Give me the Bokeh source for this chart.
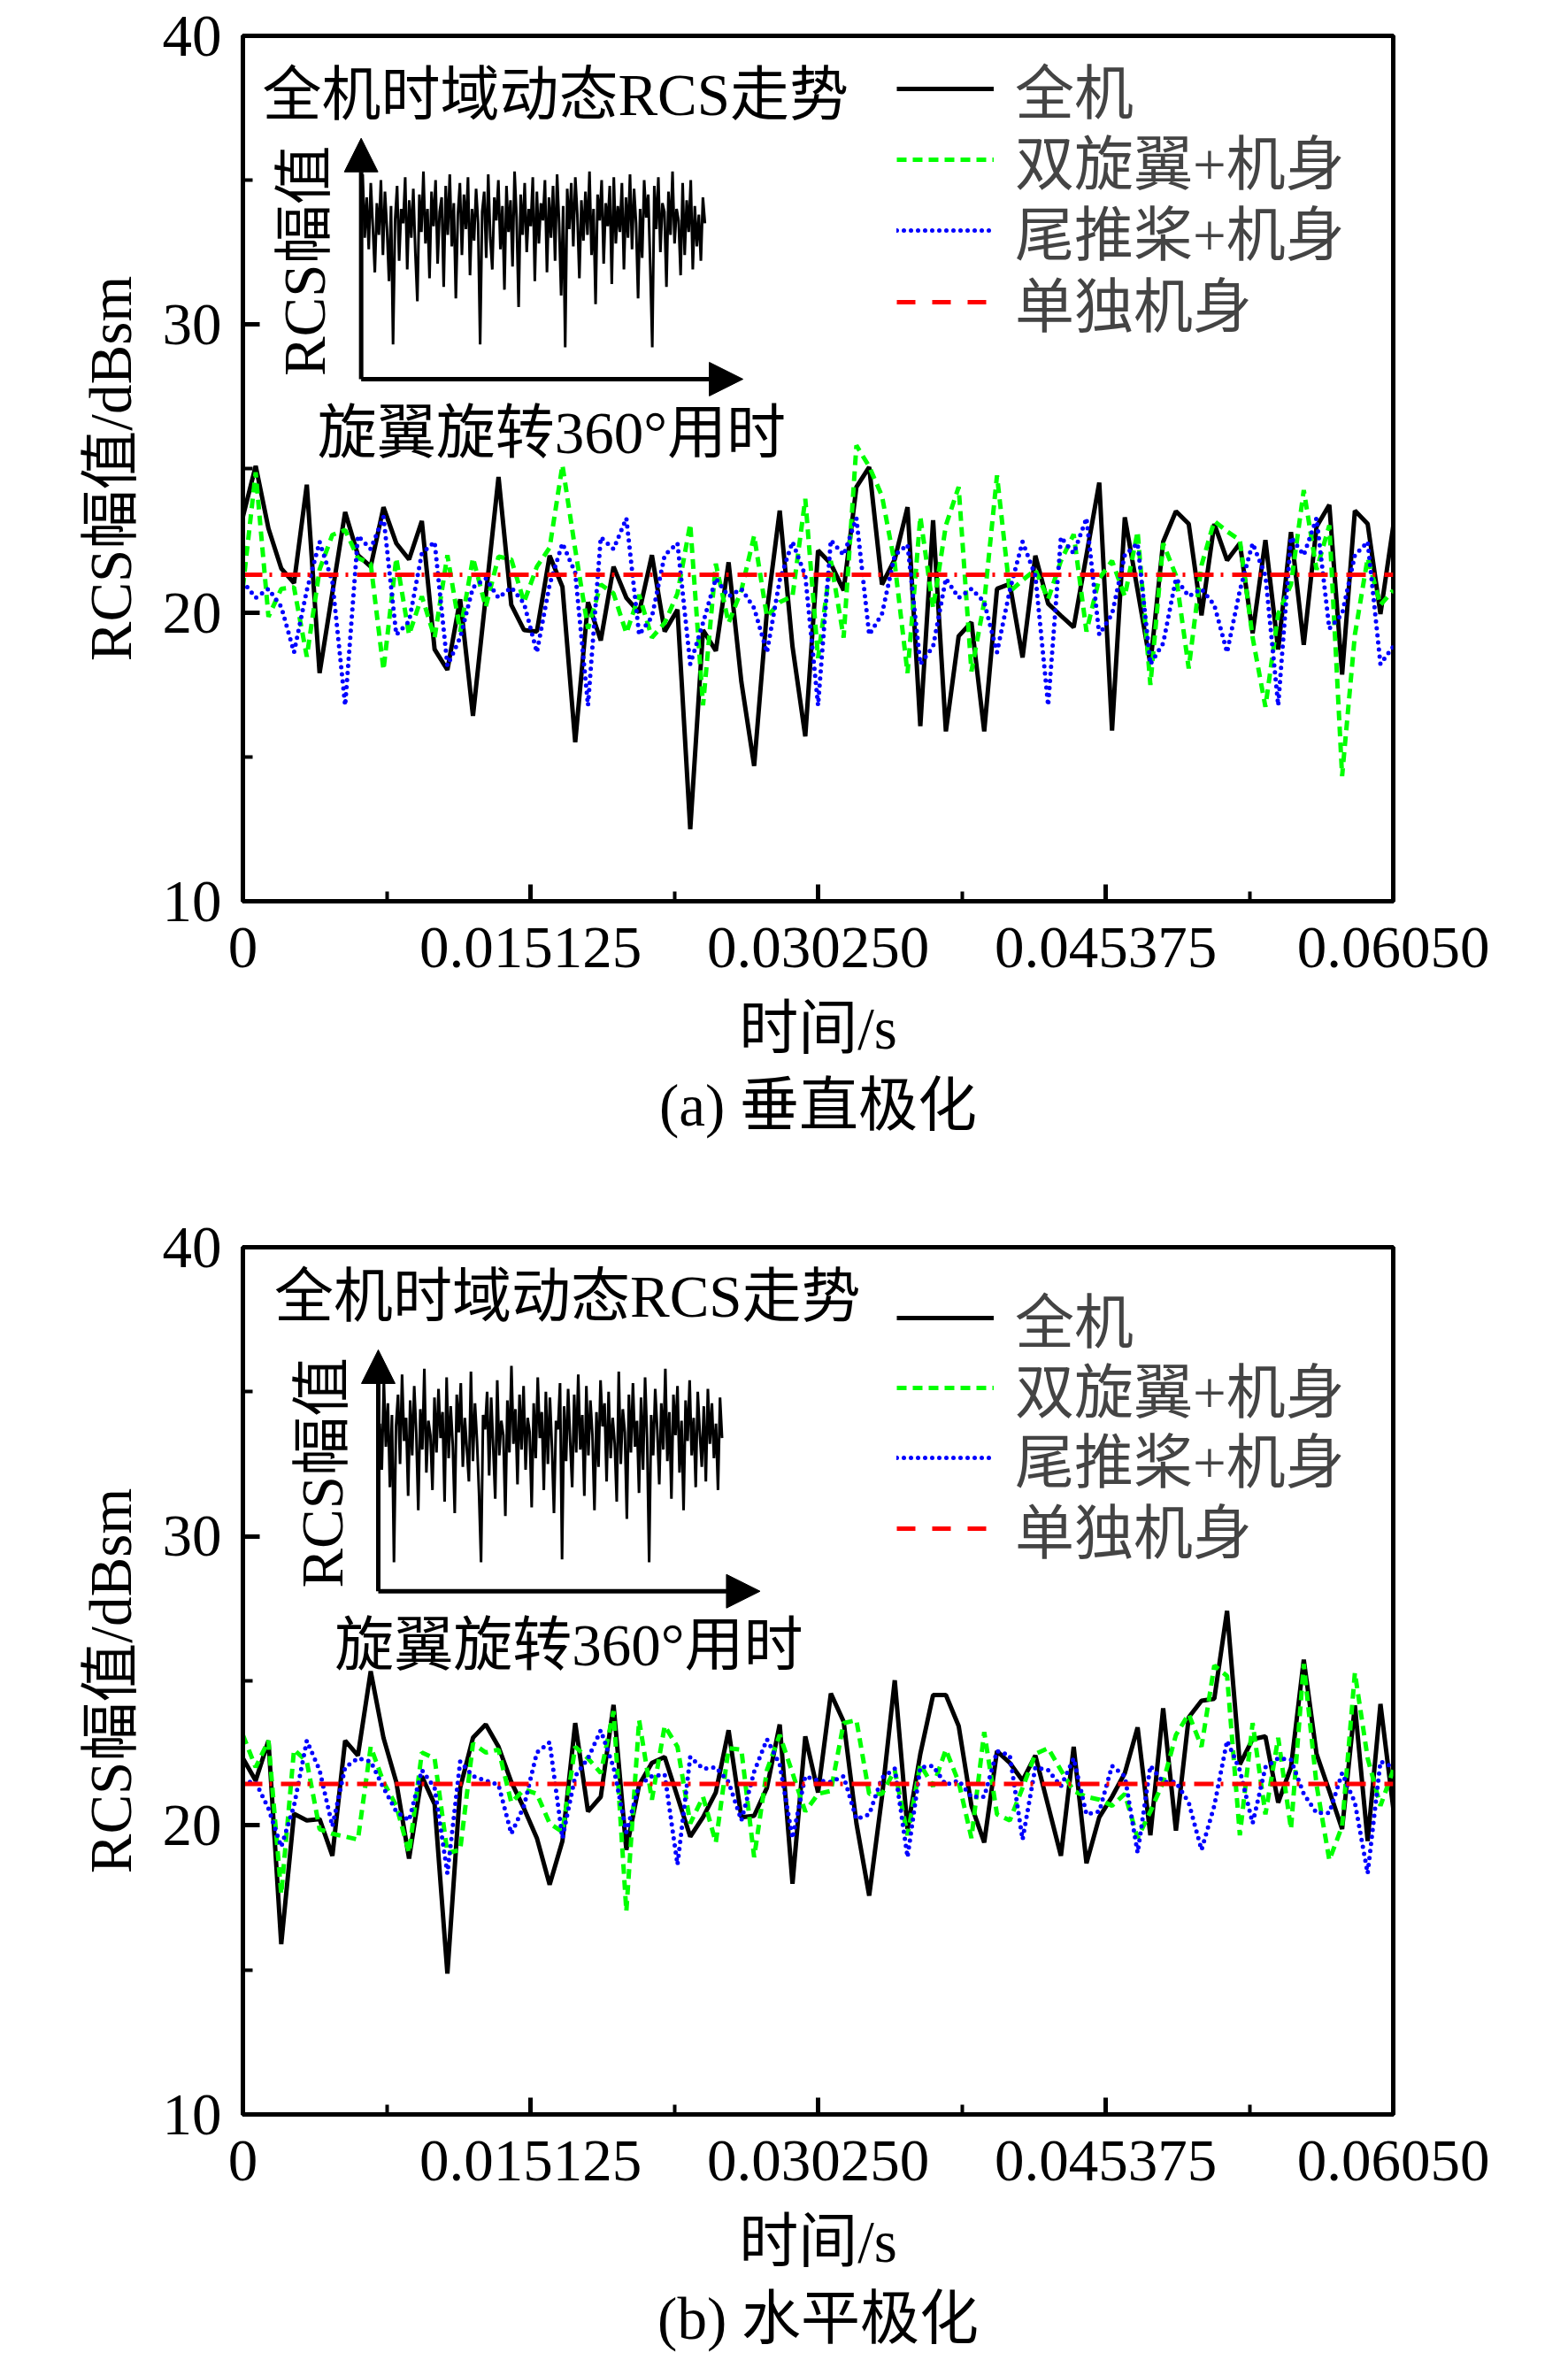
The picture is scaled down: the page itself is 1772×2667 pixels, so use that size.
import numpy as np
from bokeh.plotting import figure
from bokeh.layouts import column
from bokeh.models import (FixedTicker, Legend, LegendItem, Label, Arrow, NormalHead,
                          Title, Range1d)
from bokeh.embed import file_html
from bokeh.resources import INLINE

# ---------------- data ----------------
T_END = 0.0605
N_SAMPLES = 91
x_ticks = [0, 0.015125, 0.03025, 0.045375, 0.0605]
x_tick_labels = ["0", "0.015125", "0.030250", "0.045375", "0.06050"]
x_minor = [0.0075625, 0.0226875, 0.0378125, 0.0529375]
y_ticks = [10, 20, 30, 40]
y_minor = [15, 25, 35]

series_names = ["全机", "双旋翼+机身", "尾推桨+机身", "单独机身"]

# (a) vertical polarisation
a_full = [23.33, 25.09, 22.92, 21.54, 21.03, 24.44, 17.91, 20.7, 23.49, 22.0, 21.6, 23.66,
          22.41, 21.85, 23.18, 18.73, 18.02, 20.47, 16.43, 20.57, 24.71, 20.27, 19.4, 19.35,
          21.98, 20.9, 15.51, 20.37, 19.04, 21.6, 20.52, 20.01, 22.0, 19.35, 20.11, 12.5,
          19.4, 18.68, 21.75, 17.6, 14.69, 20.06, 23.54, 18.83, 15.72, 22.16,
          21.7, 20.78, 24.36, 25.05, 20.98, 21.85, 23.66, 16.07, 23.21, 15.89, 19.19, 19.67,
          15.89, 20.83, 21.0, 18.45, 21.98, 20.32, 19.9, 19.5, 22.0, 24.51,
          15.92, 23.31, 20.78, 18.22, 22.46, 23.52, 23.08, 19.91, 23.08, 21.82, 22.41, 19.29,
          22.52, 18.73, 22.8, 18.89, 22.98, 23.74, 17.86, 23.54, 23.08, 19.96, 23.0]
a_rotor = [20.88, 24.87, 19.86, 20.83, 20.88, 18.48, 21.5, 22.7, 22.87, 21.9, 21.7, 18.02,
           21.9, 19.24, 20.57, 19.14, 22.0, 19.35, 21.9, 20.2, 21.95, 21.85, 20.37, 21.6,
           22.26, 25.12, 22.2, 19.45, 20.98, 20.67, 19.29, 20.62, 19.14, 19.65, 20.67, 23.08,
           16.79, 21.7, 19.65, 20.78, 22.67, 19.86, 20.37, 20.57, 23.95, 18.43,
           21.8, 19.14, 25.8, 25.07, 24.05, 21.7, 17.91, 23.33, 20.16, 23.03, 24.36, 17.97,
           20.37, 24.76, 20.73, 21.13, 21.49, 20.47, 21.8, 22.72, 19.35, 21.19,
           21.8, 20.57, 22.82, 17.5, 22.41, 21.29, 18.07, 21.65, 23.18, 22.82, 22.52, 19.14,
           16.74, 19.96, 20.98, 24.25, 21.49, 23.03, 14.34, 19.24, 21.9, 20.27, 20.78]
a_tail = [21.08, 20.52, 20.83, 20.21, 18.63, 20.78, 22.46, 21.08, 16.79, 22.67, 22.21, 23.33,
          19.24, 19.7, 22.06, 22.46, 18.17, 19.14, 20.88, 21.19, 20.52, 20.88, 20.32, 18.63,
          20.98, 22.41, 21.39, 16.79, 22.62, 22.21, 23.28, 19.24, 19.86, 22.0, 22.41, 18.22,
          19.65, 21.19, 20.57, 20.83, 20.16, 18.63, 21.13, 22.46, 21.29, 16.79,
          22.52, 22.0, 23.28, 19.24, 19.96, 22.0, 22.36, 18.22, 18.83, 21.19, 20.52, 20.83,
          20.37, 18.63, 20.78, 22.46, 21.29, 16.79, 22.62, 22.06, 23.28, 19.24,
          19.96, 22.0, 22.41, 18.22, 18.94, 21.19, 20.57, 20.83, 20.27, 18.63, 20.78, 22.41,
          21.29, 16.79, 22.62, 22.0, 23.28, 19.45, 19.96, 22.0, 22.46, 18.22, 18.83]
a_body = 21.32

# (b) horizontal polarisation
b_full = [22.32, 21.55, 22.93, 15.89, 20.4, 20.17, 20.22, 18.95, 22.93, 22.42, 25.33, 23.03,
          21.5, 18.85, 21.7, 20.73, 14.87, 21.3, 23.03, 23.49, 22.72, 21.5, 20.58, 19.56,
          17.95, 19.46, 23.54, 20.48, 20.99, 24.17, 19.15, 21.4, 22.16, 22.37, 20.99, 19.61,
          20.28, 21.14, 23.29, 20.28, 20.33, 21.3, 23.49, 17.98, 23.08, 21.14,
          24.56, 23.59, 20.07, 17.57, 20.99, 25.02, 19.87, 22.47, 24.51, 24.51, 23.44, 20.68,
          19.41, 22.57, 22.16, 21.55, 22.42, 20.68, 18.95, 22.72, 18.69, 20.28,
          20.99, 21.81, 23.39, 19.66, 24.05, 19.82, 23.74, 24.31, 24.38, 27.42, 22.11, 22.98,
          23.08, 20.79, 22.01, 25.73, 22.47, 21.19, 19.87, 24.15, 19.46, 24.2, 20.6]
b_rotor = [23.13, 22.01, 22.93, 17.62, 22.62, 22.21, 19.87, 19.71, 19.61, 19.51, 22.72, 21.5,
           20.68, 19.05, 22.52, 22.32, 19.05, 19.15, 22.83, 22.52, 22.62, 20.79, 21.24, 21.09,
           20.07, 19.77, 22.72, 22.32, 21.81, 23.95, 17.03, 23.64, 20.89, 23.44, 22.72, 20.07,
           20.99, 19.41, 22.67, 22.62, 18.9, 21.91, 23.13, 21.81, 20.48, 21.09,
           21.19, 23.54, 23.64, 21.09, 21.09, 21.91, 19.66, 22.11, 21.35, 22.62, 21.5, 19.56,
           23.23, 20.38, 20.17, 21.3, 22.47, 22.67, 21.91, 21.19, 20.99, 20.89,
           20.68, 21.09, 19.56, 20.48, 21.5, 23.13, 23.85, 22.72, 25.53, 25.17, 19.66, 23.54,
           20.38, 23.03, 19.87, 25.58, 21.4, 18.8, 19.97, 25.28, 22.32, 20.68, 21.91]
b_tail = [21.5, 21.5, 20.58, 19.26, 20.68, 22.93, 21.91, 19.97, 22.01, 22.32, 22.21, 21.3,
          20.48, 20.17, 21.91, 21.3, 18.34, 22.21, 21.7, 21.55, 21.4, 19.71, 20.68, 22.52,
          22.87, 19.56, 21.7, 22.32, 23.29, 22.01, 19.77, 21.4, 21.7, 21.76, 18.64, 22.37,
          21.96, 22.01, 21.5, 20.17, 21.86, 22.98, 22.11, 19.56, 21.7, 21.55,
          21.5, 21.7, 20.22, 20.38, 21.65, 21.96, 18.9, 22.01, 22.06, 21.4, 21.55, 20.99,
          20.99, 22.57, 22.42, 19.51, 22.01, 21.91, 21.35, 22.32, 20.38, 20.48,
          22.06, 21.7, 19.05, 22.06, 21.5, 21.5, 20.79, 19.15, 20.68, 22.93, 21.91, 20.07,
          22.01, 22.32, 22.27, 21.09, 20.43, 20.43, 21.81, 20.79, 18.34, 22.21, 22.01]
b_body = 21.43

# inset traces (full-rotation RCS trend, read in main-axis units)
inset_a = [35.2, 33.0, 34.4, 32.6, 34.9, 33.4, 31.8, 34.2, 33.1, 35.0,
           32.4, 34.6, 33.3, 31.5, 34.1, 29.3, 33.6, 34.8, 32.2, 34.0,
           33.5, 35.1, 31.9, 34.3, 33.0, 34.7, 32.5, 30.8, 34.5, 33.2,
           35.3, 32.8, 34.0, 31.6, 34.6, 33.4, 35.0, 32.1, 33.9, 34.4,
           31.3, 34.8, 33.1, 35.2, 32.7, 34.2, 30.9, 33.8, 34.9, 32.4,
           34.5, 33.3, 35.1, 31.7, 34.0, 32.9, 34.7, 33.5, 29.3, 33.9,
           34.6, 32.3, 35.2, 33.0, 31.9, 34.4, 33.6, 35.0, 32.6, 34.1,
           31.2, 34.8, 33.2, 34.3, 32.0, 35.3, 33.7, 30.6, 34.5, 33.1,
           34.9, 32.5, 34.0, 33.4, 35.1, 31.5, 34.6, 32.8, 34.2, 33.6,
           35.0, 31.8, 34.4, 33.0, 34.8, 32.2, 35.2, 33.5, 31.0, 34.1,
           29.2, 34.7, 33.3, 34.9, 32.7, 35.1, 33.8, 31.6, 34.3, 32.9,
           34.6, 33.1, 35.3, 32.4, 34.0, 30.7, 34.5, 33.6, 35.0, 32.1,
           34.2, 33.4, 34.8, 31.4, 35.1, 32.8, 34.1, 33.2, 34.9, 31.9,
           34.4, 33.0, 35.2, 32.6, 34.7, 33.5, 30.9, 34.0, 32.3, 35.0,
           33.7, 34.5, 32.0, 29.2, 34.8, 33.3, 35.1, 32.5, 34.2, 33.9,
           31.3, 34.6, 33.1, 35.3, 32.8, 34.0, 33.6, 31.7, 34.9, 32.4,
           34.3, 33.2, 35.0, 31.9, 34.1, 32.7, 33.8, 32.2, 34.4, 33.5]
inset_b = [33.9, 32.3, 35.4, 33.1, 34.6, 31.7, 34.2, 29.1, 33.8, 34.9,
           32.5, 35.6, 33.3, 34.1, 31.4, 34.7, 32.8, 35.2, 33.6, 30.9,
           34.4, 33.0, 35.8, 32.2, 34.0, 33.5, 31.6, 34.8, 32.9, 35.1,
           33.4, 34.3, 31.2, 35.5, 32.7, 34.5, 33.2, 30.8, 34.9, 33.6,
           35.3, 32.4, 34.1, 33.0, 31.9, 35.7, 32.6, 34.6, 33.3, 31.5,
           29.1, 34.2, 33.7, 35.0, 32.1, 34.8, 33.1, 31.3, 35.4, 32.8,
           34.0, 33.5, 30.7, 34.7, 32.9, 35.9, 33.2, 34.4, 31.8, 34.9,
           33.0, 35.2, 32.3, 34.1, 33.6, 31.0, 34.6, 32.7, 35.5, 33.4,
           34.3, 31.6, 35.0, 32.5, 34.8, 33.1, 30.8, 34.0, 33.7, 35.3,
           29.2, 34.5, 32.6, 35.1, 33.3, 31.7, 34.9, 32.9, 35.6, 33.0,
           34.2, 31.4, 35.2, 32.8, 34.7, 33.5, 30.9, 34.3, 32.4, 35.4,
           33.8, 34.6, 31.9, 35.0, 32.7, 34.1, 33.2, 31.2, 35.7, 32.5,
           34.4, 33.6, 30.6, 34.9, 32.9, 35.3, 33.1, 34.0, 31.5, 34.8,
           32.3, 35.5, 33.4, 29.1, 34.2, 32.8, 35.1, 33.7, 31.8, 34.6,
           33.0, 35.8, 32.6, 34.3, 31.3, 34.9, 33.5, 35.2, 32.2, 34.0,
           30.9, 34.7, 33.3, 35.4, 32.8, 34.1, 31.7, 35.0, 33.6, 32.4,
           34.5, 31.9, 35.1, 33.2, 34.6, 32.7, 33.9, 31.6, 34.8, 33.4]

inset_title = "全机时域动态RCS走势"
inset_ylabel = "RCS幅值"
inset_xlabel = "旋翼旋转360°用时"

time = np.linspace(0, T_END, N_SAMPLES)

FONT = "Liberation Serif, Noto Sans CJK SC"
FS = "67px"
LW = 5


def make_panel(full, rotor, tail, body, inset, caption, height, top, bottom,
               dx, legend_rows, title_dy):
    p = figure(width=1772, height=height, x_range=Range1d(0, T_END), y_range=Range1d(10, 40),
               output_backend="svg", toolbar_location=None,
               min_border_left=274, min_border_right=198,
               min_border_top=top, min_border_bottom=bottom)
    p.grid.visible = False
    p.outline_line_color = "black"
    p.outline_line_width = LW
    p.outline_line_alpha = 1

    for ax in (p.xaxis[0], p.yaxis[0]):
        ax.axis_line_width = LW
        ax.major_tick_line_width = LW
        ax.minor_tick_line_width = 4
        ax.major_tick_in = 19
        ax.major_tick_out = 0
        ax.minor_tick_in = 11
        ax.minor_tick_out = 0
        ax.major_label_text_font = FONT
        ax.major_label_text_font_size = FS
        ax.major_label_text_color = "black"
        ax.axis_label_text_font = FONT
        ax.axis_label_text_font_size = FS
        ax.axis_label_text_font_style = "normal"
        ax.axis_label_text_color = "black"

    p.xaxis.ticker = FixedTicker(ticks=x_ticks, minor_ticks=x_minor)
    p.xaxis.major_label_overrides = {t: s for t, s in zip(x_ticks, x_tick_labels)}
    p.xaxis.major_label_standoff = 30
    p.xaxis.axis_label = "时间/s"
    p.xaxis.axis_label_standoff = 29
    p.yaxis.ticker = FixedTicker(ticks=y_ticks, minor_ticks=y_minor)
    p.yaxis.major_label_standoff = 24
    p.yaxis.axis_label = "RCS幅值/dBsm"
    p.yaxis.axis_label_standoff = 19

    r_full = p.line(time, full, line_color="black", line_width=LW)
    r_rotor = p.line(time, rotor, line_color="#00ff00", line_width=LW, line_dash="11 7")
    r_tail = p.line(time, tail, line_color="#0000ff", line_width=LW, line_dash="0 8",
                    line_cap="round")
    p.line(time, [body] * N_SAMPLES, line_color="#ff0000", line_width=LW,
           line_dash="22 8 3 10")
    # legend proxy for the fuselage line (draws nothing in the plot)
    r_body_leg = p.line(time, np.full(N_SAMPLES, np.nan), line_color="#ff0000",
                        line_width=LW, line_dash="21 19")

    # inset
    t_in = np.linspace(0.0063 + dx, 0.0243 + dx, len(inset))
    p.line(t_in, inset, line_color="black", line_width=3)
    x0 = 0.00622 + dx
    p.add_layout(Arrow(end=NormalHead(size=38, fill_color="black", line_color="black"),
                       x_start=x0, y_start=28.1, x_end=x0, y_end=36.45,
                       line_width=LW, line_color="black"))
    p.add_layout(Arrow(end=NormalHead(size=38, fill_color="black", line_color="black"),
                       x_start=x0, y_start=28.1, x_end=0.0263 + dx, y_end=28.1,
                       line_width=LW, line_color="black"))
    p.add_layout(Label(x=0.00102 + dx * 0.7, y=37.95 + title_dy, text=inset_title,
                       text_font=FONT, text_font_size=FS, text_align="left",
                       text_baseline="middle", text_color="black"))
    p.add_layout(Label(x=0.00325 + dx, y=32.2, text=inset_ylabel, angle=np.pi / 2,
                       text_font=FONT, text_font_size=FS, text_align="center",
                       text_baseline="middle", text_color="black"))
    p.add_layout(Label(x=0.01624 + dx, y=26.25, text=inset_xlabel,
                       text_font=FONT, text_font_size=FS, text_align="center",
                       text_baseline="middle", text_color="black"))

    # one single-row legend per series, so the row pitch matches the reference
    renderers = [r_full, r_rotor, r_tail, r_body_leg]
    for name, rend, vy in zip(series_names, renderers, legend_rows):
        leg = Legend(items=[LegendItem(label=name, renderers=[rend])],
                     location=(739, vy), glyph_width=110, glyph_height=80,
                     label_standoff=24, spacing=0, padding=0, margin=0,
                     border_line_alpha=0, background_fill_alpha=0,
                     label_text_font=FONT, label_text_font_size=FS, label_height=80)
        p.add_layout(leg)

    p.add_layout(Title(text=caption, align="center", text_font=FONT, text_font_size=FS,
                       text_font_style="normal", text_color="black", standoff=17), "below")
    return p


pa = make_panel(a_full, a_rotor, a_tail, a_body, inset_a, "(a) 垂直极化",
                height=1340, top=40, bottom=322, dx=0.0,
                legend_rows=[870, 790, 710, 629], title_dy=0.0)
pb = make_panel(b_full, b_rotor, b_tail, b_body, inset_b, "(b) 水平极化",
                height=1327, top=69, bottom=278, dx=0.0009,
                legend_rows=[852, 773, 694, 614], title_dy=0.36)

layout = column(pa, pb)
open("out.html", "w").write(file_html(layout, INLINE))
